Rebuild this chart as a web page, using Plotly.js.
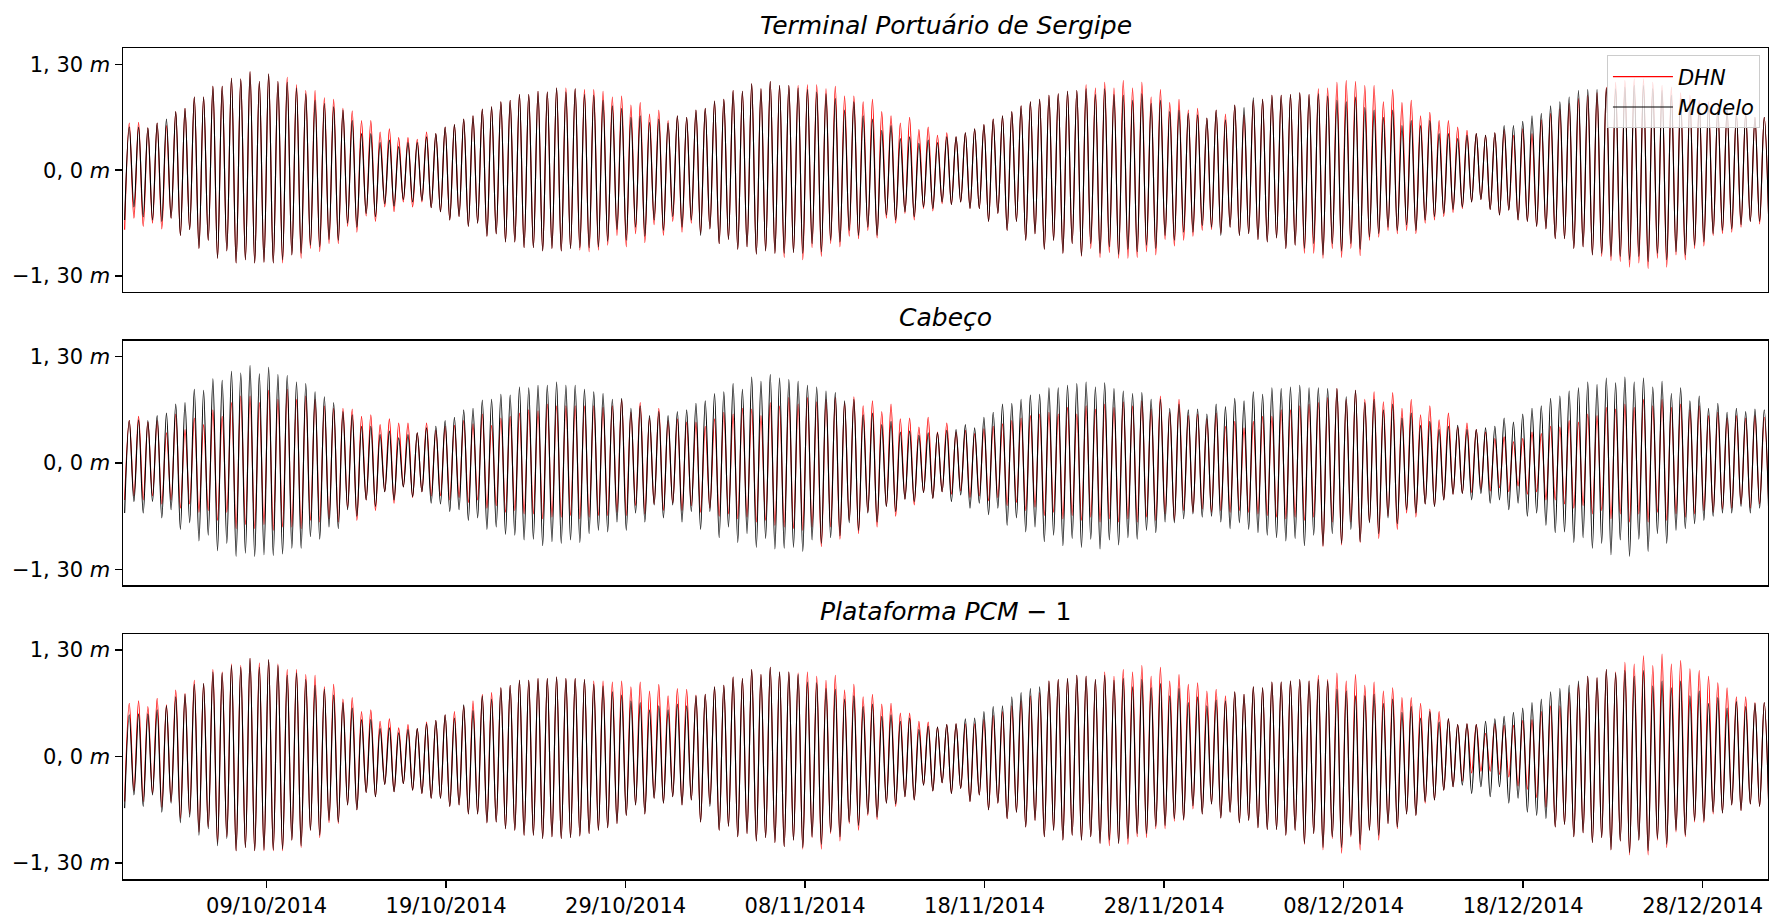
<!DOCTYPE html>
<html>
<head>
<meta charset="utf-8">
<script src="https://cdn.plot.ly/plotly-3.0.1.min.js"></script>
<style>
  html, body { margin: 0; padding: 0; background: #ffffff; }
  #chart { width: 1769px; height: 917px; }
</style>
</head>
<body>
<div id="chart"></div>
<script>
// Tide heights (cm) at each high water and low water, Oct-Dec 2014.
// Low-water arrays start with the low before the first high water.

// Terminal Portuário de Sergipe
const tpsDhnHighCm = [
  58, 59, 52, 58, 55, 72, 76, 90, 90, 103,
  103, 113, 112, 121, 109, 118, 109, 114, 105, 98,
  98, 89, 87, 76, 73, 61, 61, 47, 51, 40,
  40, 38, 47, 45, 53, 56, 63, 67, 75, 78,
  84, 86, 93, 93, 97, 96, 101, 101, 100, 99,
  99, 97, 90, 91, 80, 83, 69, 74, 61, 67,
  65, 74, 76, 85, 87, 98, 97, 106, 100, 109,
  104, 104, 104, 105, 105, 100, 103, 91, 91, 84,
  87, 72, 67, 58, 65, 50, 53, 43, 46, 41,
  46, 51, 56, 63, 67, 72, 79, 84, 87, 92,
  94, 97, 98, 105, 101, 108, 101, 110, 101, 108,
  90, 99, 83, 87, 74, 76, 64, 74, 69, 80,
  68, 86, 87, 92, 92, 93, 95, 93, 100, 101,
  108, 110, 109, 104, 104, 84, 99, 83, 86, 67,
  71, 61, 61, 53, 49, 45, 43, 46, 50, 43,
  51, 45, 62, 70, 75, 82, 88, 92, 95, 102,
  108, 110, 112, 112, 108, 104, 102, 95, 92, 86,
  84, 76, 74, 70, 70, 65, 65
];
const tpsDhnLowCm = [
  -73,
  -59, -69, -65, -72, -59, -80, -73, -96, -86, -108,
  -99, -114, -110, -114, -113, -114, -114, -104, -108, -96,
  -100, -90, -90, -69, -76, -56, -63, -45, -51, -39,
  -45, -39, -46, -51, -61, -57, -69, -65, -81, -78,
  -88, -88, -95, -95, -99, -96, -99, -96, -98, -100,
  -98, -92, -80, -94, -78, -89, -67, -80, -63, -76,
  -65, -78, -72, -90, -85, -97, -94, -103, -99, -102,
  -107, -101, -110, -95, -106, -90, -94, -81, -84, -74,
  -83, -59, -65, -53, -61, -47, -50, -41, -42, -39,
  -47, -47, -63, -53, -74, -63, -86, -78, -97, -86,
  -102, -90, -106, -96, -107, -101, -108, -108, -107, -100,
  -104, -85, -93, -86, -81, -74, -73, -78, -70, -80,
  -78, -85, -88, -83, -96, -92, -102, -102, -108, -96,
  -107, -96, -105, -86, -82, -74, -78, -74, -78, -65,
  -61, -57, -52, -47, -39, -36, -48, -55, -49, -61,
  -63, -69, -72, -84, -84, -96, -94, -104, -106, -111,
  -112, -119, -114, -121, -108, -119, -104, -110, -96, -93,
  -80, -78, -76, -70, -63, -66, -70
];
const tpsModHighCm = [
  53, 53, 52, 58, 63, 72, 76, 90, 90, 103,
  103, 113, 112, 121, 109, 118, 109, 108, 101, 94,
  86, 82, 78, 74, 61, 45, 45, 34, 37, 29,
  34, 34, 41, 45, 53, 56, 63, 67, 75, 78,
  84, 86, 93, 93, 97, 96, 101, 96, 100, 93,
  92, 86, 79, 76, 65, 67, 59, 63, 58, 67,
  65, 74, 76, 85, 87, 98, 97, 106, 100, 109,
  104, 104, 101, 99, 96, 94, 88, 74, 84, 67,
  63, 49, 55, 39, 41, 33, 37, 34, 41, 41,
  46, 51, 56, 63, 67, 72, 79, 84, 87, 92,
  94, 97, 98, 100, 93, 100, 93, 92, 86, 94,
  82, 86, 72, 74, 70, 68, 64, 74, 62, 80,
  77, 89, 87, 92, 92, 93, 95, 93, 94, 91,
  86, 84, 90, 77, 74, 65, 74, 55, 61, 55,
  61, 45, 45, 39, 43, 45, 43, 46, 55, 55,
  60, 67, 70, 79, 84, 90, 98, 99, 99, 101,
  100, 102, 104, 104, 100, 98, 92, 88, 84, 82,
  78, 76, 74, 70, 70, 65, 65
];
const tpsModLowCm = [
  -61,
  -45, -57, -61, -63, -59, -80, -73, -96, -86, -108,
  -99, -114, -110, -114, -113, -114, -110, -104, -102, -92,
  -94, -85, -86, -65, -70, -53, -57, -41, -44, -36,
  -39, -37, -46, -51, -61, -57, -69, -65, -81, -78,
  -88, -88, -95, -95, -99, -96, -99, -96, -95, -95,
  -94, -87, -73, -86, -70, -81, -61, -74, -57, -70,
  -61, -80, -72, -90, -85, -97, -94, -103, -99, -102,
  -102, -101, -102, -90, -100, -86, -88, -74, -80, -70,
  -80, -55, -61, -51, -57, -45, -47, -39, -42, -39,
  -47, -47, -63, -53, -74, -63, -86, -78, -97, -86,
  -102, -90, -105, -90, -102, -94, -103, -97, -100, -92,
  -96, -80, -86, -76, -76, -68, -70, -80, -70, -80,
  -78, -85, -88, -83, -96, -92, -96, -90, -104, -90,
  -99, -90, -97, -82, -78, -70, -74, -67, -74, -61,
  -57, -53, -48, -45, -39, -36, -48, -55, -49, -61,
  -63, -69, -72, -84, -84, -96, -94, -104, -102, -106,
  -106, -110, -106, -112, -102, -110, -100, -104, -92, -88,
  -78, -74, -72, -67, -63, -63, -70
];

// Cabeço
const cabDhnHighCm = [
  52, 57, 50, 52, 37, 60, 41, 55, 47, 65,
  57, 74, 82, 82, 74, 89, 78, 90, 78, 82,
  78, 70, 67, 67, 66, 57, 59, 47, 54, 49,
  49, 37, 49, 40, 45, 46, 52, 48, 60, 46,
  55, 57, 61, 65, 64, 72, 70, 70, 70, 70,
  70, 68, 70, 78, 62, 74, 55, 67, 52, 54,
  50, 50, 45, 54, 62, 60, 67, 66, 58, 74,
  70, 80, 72, 80, 75, 78, 80, 74, 81, 70,
  76, 63, 72, 54, 55, 44, 56, 38, 49, 38,
  40, 36, 42, 45, 48, 52, 55, 58, 60, 62,
  60, 68, 60, 70, 66, 72, 68, 75, 70, 76,
  66, 82, 62, 78, 58, 60, 54, 61, 45, 51,
  43, 51, 57, 57, 65, 65, 70, 72, 74, 80,
  91, 78, 89, 78, 87, 75, 86, 67, 78, 59,
  70, 53, 61, 44, 49, 41, 38, 30, 32, 26,
  30, 38, 36, 45, 44, 52, 50, 60, 58, 68,
  66, 72, 68, 78, 70, 78, 68, 72, 65, 70,
  58, 62, 55, 58, 55, 58, 56
];
const cabDhnLowCm = [
  -45,
  -40, -45, -40, -50, -45, -55, -50, -60, -58, -70,
  -60, -80, -75, -80, -75, -82, -78, -78, -80, -70,
  -72, -68, -72, -55, -70, -45, -58, -35, -49, -29,
  -42, -35, -40, -40, -45, -42, -48, -45, -55, -52,
  -60, -58, -62, -62, -68, -66, -66, -64, -68, -66,
  -64, -64, -60, -64, -52, -62, -50, -58, -49, -58,
  -52, -60, -55, -65, -62, -68, -66, -72, -70, -76,
  -78, -80, -82, -78, -102, -78, -93, -70, -86, -60,
  -78, -53, -65, -44, -51, -36, -43, -35, -38, -34,
  -42, -40, -46, -42, -52, -48, -58, -54, -64, -60,
  -68, -64, -70, -66, -72, -68, -72, -68, -72, -66,
  -70, -62, -70, -58, -60, -56, -60, -58, -60, -58,
  -60, -62, -64, -66, -68, -66, -70, -66, -102, -72,
  -100, -72, -97, -72, -92, -65, -81, -61, -66, -50,
  -53, -45, -38, -37, -36, -32, -34, -30, -35, -28,
  -38, -35, -45, -45, -50, -55, -52, -62, -58, -68,
  -62, -72, -62, -72, -60, -70, -62, -66, -62, -58,
  -60, -56, -55, -50, -55, -50, -58
];
const cabModHighCm = [
  52, 53, 52, 58, 61, 72, 74, 90, 89, 103,
  101, 112, 110, 119, 109, 117, 108, 107, 99, 97,
  87, 81, 74, 63, 59, 45, 45, 35, 39, 31,
  35, 37, 43, 45, 52, 56, 65, 67, 77, 78,
  84, 83, 93, 92, 95, 95, 99, 95, 95, 90,
  87, 85, 78, 79, 67, 70, 58, 63, 58, 63,
  65, 73, 76, 85, 87, 97, 90, 105, 100, 108,
  104, 102, 100, 95, 93, 88, 86, 76, 78, 59,
  61, 47, 51, 38, 39, 34, 37, 37, 40, 41,
  47, 43, 56, 62, 72, 73, 78, 83, 84, 92,
  92, 95, 97, 99, 93, 98, 91, 88, 85, 86,
  78, 78, 67, 72, 65, 66, 60, 72, 69, 79,
  76, 87, 84, 92, 91, 93, 95, 92, 92, 91,
  91, 81, 89, 74, 78, 65, 72, 55, 61, 46,
  51, 41, 45, 46, 41, 41, 43, 45, 55, 50,
  60, 67, 70, 79, 82, 88, 92, 99, 96, 104,
  98, 105, 99, 104, 93, 100, 85, 92, 76, 82,
  67, 73, 62, 67, 63, 66, 65
];
const cabModLowCm = [
  -61,
  -47, -61, -47, -67, -57, -81, -73, -95, -88, -107,
  -98, -114, -110, -114, -112, -113, -111, -104, -104, -90,
  -93, -78, -80, -57, -65, -45, -53, -35, -45, -29,
  -41, -35, -49, -50, -59, -57, -70, -67, -81, -78,
  -87, -88, -94, -93, -101, -96, -98, -94, -97, -86,
  -82, -84, -72, -82, -61, -72, -51, -67, -51, -72,
  -59, -81, -59, -91, -78, -97, -86, -103, -92, -105,
  -104, -103, -108, -94, -98, -91, -89, -73, -82, -61,
  -72, -53, -59, -44, -47, -36, -43, -35, -47, -39,
  -55, -49, -63, -55, -76, -67, -84, -78, -96, -88,
  -101, -92, -103, -93, -105, -94, -100, -91, -93, -82,
  -85, -72, -73, -68, -62, -66, -65, -72, -80, -73,
  -81, -85, -88, -91, -95, -92, -101, -88, -101, -86,
  -98, -81, -96, -73, -86, -67, -74, -57, -61, -50,
  -53, -45, -38, -37, -45, -37, -49, -45, -57, -49,
  -65, -61, -76, -85, -84, -97, -91, -104, -98, -112,
  -94, -114, -93, -108, -86, -98, -82, -80, -74, -70,
  -65, -61, -61, -53, -61, -55, -69
];

// Plataforma PCM-1
const pcmDhnHighCm = [
  65, 68, 61, 71, 63, 81, 77, 93, 89, 106,
  103, 113, 111, 120, 114, 118, 113, 106, 106, 100,
  99, 85, 88, 70, 72, 55, 57, 43, 46, 35,
  39, 34, 42, 44, 51, 55, 62, 68, 76, 78,
  84, 87, 93, 93, 95, 95, 97, 95, 95, 94,
  92, 92, 91, 92, 85, 91, 80, 88, 74, 83,
  82, 75, 76, 85, 87, 97, 95, 106, 100, 109,
  103, 103, 102, 103, 98, 93, 99, 81, 88, 73,
  76, 64, 65, 53, 53, 43, 42, 36, 39, 40,
  40, 40, 45, 50, 55, 62, 68, 74, 78, 92,
  94, 95, 99, 98, 94, 103, 98, 106, 103, 111,
  98, 109, 92, 100, 88, 90, 80, 82, 74, 79,
  76, 85, 84, 91, 91, 92, 94, 92, 99, 94,
  102, 92, 100, 87, 91, 80, 84, 72, 72, 65,
  58, 55, 46, 39, 40, 39, 28, 40, 38, 38,
  44, 45, 55, 62, 62, 78, 88, 98, 96, 106,
  103, 115, 113, 123, 111, 125, 113, 117, 107, 105,
  98, 90, 84, 73, 73, 66, 66
];
const pcmDhnLowCm = [
  -55,
  -42, -55, -45, -62, -55, -76, -70, -92, -86, -105,
  -98, -115, -111, -115, -115, -115, -115, -102, -111, -90,
  -99, -81, -82, -59, -65, -44, -49, -34, -43, -33,
  -41, -45, -51, -51, -61, -59, -70, -70, -81, -80,
  -88, -90, -96, -96, -100, -98, -100, -99, -97, -94,
  -90, -87, -82, -72, -59, -70, -51, -57, -49, -59,
  -53, -80, -58, -90, -85, -98, -94, -103, -99, -105,
  -110, -102, -113, -99, -113, -94, -103, -82, -90, -72,
  -77, -57, -61, -49, -53, -35, -42, -32, -45, -39,
  -55, -47, -65, -57, -76, -68, -86, -78, -98, -90,
  -102, -96, -102, -98, -106, -109, -106, -107, -98, -99,
  -88, -88, -79, -78, -64, -70, -58, -75, -68, -81,
  -78, -87, -89, -89, -96, -90, -107, -94, -114, -100,
  -118, -98, -114, -90, -102, -82, -88, -70, -72, -57,
  -53, -41, -37, -30, -20, -18, -18, -22, -25, -36,
  -40, -50, -62, -86, -83, -98, -93, -105, -99, -114,
  -103, -120, -102, -120, -102, -111, -92, -98, -80, -81,
  -70, -69, -59, -66, -58, -61, -68
];
const pcmModHighCm = [
  51, 52, 52, 57, 62, 73, 76, 88, 89, 103,
  102, 111, 109, 120, 109, 118, 111, 99, 102, 94,
  87, 82, 75, 66, 59, 45, 45, 34, 35, 29,
  33, 34, 40, 44, 51, 47, 63, 56, 74, 70,
  84, 87, 93, 93, 95, 95, 97, 95, 95, 94,
  88, 86, 79, 75, 68, 66, 57, 62, 57, 64,
  62, 74, 76, 85, 87, 97, 95, 106, 100, 109,
  103, 103, 100, 91, 90, 83, 82, 70, 74, 61,
  64, 49, 51, 43, 47, 33, 37, 36, 39, 40,
  46, 47, 55, 61, 62, 73, 78, 83, 85, 92,
  94, 95, 99, 98, 94, 99, 93, 95, 85, 94,
  84, 89, 74, 83, 66, 73, 62, 69, 68, 79,
  76, 85, 84, 91, 91, 92, 94, 92, 94, 92,
  82, 80, 74, 74, 76, 65, 70, 54, 61, 47,
  55, 42, 46, 39, 40, 39, 43, 46, 49, 54,
  59, 66, 70, 79, 83, 87, 92, 98, 96, 106,
  102, 105, 98, 105, 86, 92, 84, 92, 74, 80,
  65, 72, 59, 67, 61, 65, 66
];
const pcmModLowCm = [
  -63,
  -47, -61, -47, -68, -57, -81, -74, -96, -88, -109,
  -100, -115, -111, -115, -114, -114, -113, -102, -109, -90,
  -96, -78, -80, -59, -65, -44, -49, -34, -43, -33,
  -41, -45, -51, -51, -61, -59, -70, -70, -81, -80,
  -88, -90, -96, -96, -100, -98, -100, -99, -97, -94,
  -90, -87, -82, -72, -59, -70, -51, -57, -49, -59,
  -53, -80, -61, -90, -85, -98, -94, -103, -99, -105,
  -110, -102, -111, -98, -107, -92, -98, -80, -84, -70,
  -74, -57, -58, -49, -53, -35, -42, -32, -45, -39,
  -55, -47, -65, -57, -76, -68, -86, -78, -98, -90,
  -102, -96, -102, -98, -106, -102, -106, -100, -94, -94,
  -85, -84, -76, -77, -60, -70, -58, -75, -68, -81,
  -78, -87, -89, -89, -96, -90, -106, -94, -111, -98,
  -111, -96, -107, -90, -96, -82, -86, -70, -72, -55,
  -53, -41, -37, -35, -45, -37, -49, -37, -57, -51,
  -68, -72, -76, -86, -83, -98, -93, -105, -99, -114,
  -103, -117, -102, -115, -100, -107, -90, -96, -78, -79,
  -68, -69, -59, -66, -58, -61, -68
];

// Timing of the tide: first high water and mean semidiurnal period
const firstHighWater = '2014-10-01 08:24';
const tidalPeriodHours = 12.42;

// Axis labels
const panelTitles = [
  '<i>Terminal Portuário de Sergipe</i>',
  '<i>Cabeço</i>',
  '<i>Plataforma PCM</i> − 1'
];
const seriesNames = ['<i>DHN</i>', '<i>Modelo</i>'];
const yTickValues = [-1.3, 0, 1.3];
const yTickLabels = ['−1, 30 <i>m</i>', '0, 0 <i>m</i>', '1, 30 <i>m</i>'];
const dateTickValues = [
  '2014-10-09', '2014-10-19', '2014-10-29', '2014-11-08', '2014-11-18',
  '2014-11-28', '2014-12-08', '2014-12-18', '2014-12-28'
];
const xRange = ['2014-10-01 00:00', '2014-12-31 15:20'];

// Build the alternating low/high sequence with its timestamps
function fmt(ms) {
  return new Date(ms).toISOString().slice(0, 19).replace('T', ' ');
}
function tideSeries(highsCm, lowsCm) {
  const t0 = Date.parse(firstHighWater.replace(' ', 'T') + ':00Z');
  const period = tidalPeriodHours * 3600 * 1000;
  const x = [], y = [];
  x.push(fmt(t0 - period / 2));
  y.push(lowsCm[0] / 100);
  highsCm.forEach((h, i) => {
    x.push(fmt(t0 + i * period));
    y.push(h / 100);
    if (i + 1 < lowsCm.length) {
      x.push(fmt(t0 + i * period + period / 2));
      y.push(lowsCm[i + 1] / 100);
    }
  });
  return { x, y };
}

const panels = [
  { dhn: [tpsDhnHighCm, tpsDhnLowCm], mod: [tpsModHighCm, tpsModLowCm], xa: 'x', ya: 'y' },
  { dhn: [cabDhnHighCm, cabDhnLowCm], mod: [cabModHighCm, cabModLowCm], xa: 'x2', ya: 'y2' },
  { dhn: [pcmDhnHighCm, pcmDhnLowCm], mod: [pcmModHighCm, pcmModLowCm], xa: 'x3', ya: 'y3' }
];

const traces = [];
panels.forEach((p, i) => {
  const d = tideSeries(p.dhn[0], p.dhn[1]);
  const m = tideSeries(p.mod[0], p.mod[1]);
  traces.push({
    type: 'scatter', mode: 'lines', x: d.x, y: d.y, xaxis: p.xa, yaxis: p.ya,
    name: seriesNames[0], showlegend: i === 0, legendgroup: 'dhn',
    line: { color: '#ff0000', width: 1.1, shape: 'spline', smoothing: 1 },
    hoverinfo: 'skip'
  });
  traces.push({
    type: 'scatter', mode: 'lines', x: m.x, y: m.y, xaxis: p.xa, yaxis: p.ya,
    name: seriesNames[1], showlegend: i === 0, legendgroup: 'mod',
    line: { color: '#000000', width: 1.1, shape: 'spline', smoothing: 1 },
    hoverinfo: 'skip'
  });
});

const font = 'DejaVu Sans, Verdana, sans-serif';
const tickFont = { family: font, size: 21, color: '#000' };

function xAxis(anchor, withLabels) {
  return {
    type: 'date', anchor: anchor, range: xRange,
    showline: true, mirror: true, linecolor: '#000', linewidth: 1.5,
    showgrid: false, zeroline: false, automargin: false, fixedrange: true,
    tickvals: dateTickValues, tickformat: '%d/%m/%Y',
    ticks: withLabels ? 'outside' : '', ticklen: 7, tickwidth: 1.5, tickcolor: '#000',
    showticklabels: withLabels, tickfont: tickFont
  };
}
function yAxis(anchor, domain) {
  return {
    anchor: anchor, domain: domain, range: [-1.495, 1.495],
    showline: true, mirror: true, linecolor: '#000', linewidth: 1.5,
    showgrid: false, zeroline: false, automargin: false, fixedrange: true,
    tickvals: yTickValues, ticktext: yTickLabels,
    ticks: 'outside', ticklen: 7, tickwidth: 1.5, tickcolor: '#000',
    tickfont: tickFont
  };
}

const domains = [[0.7064, 0.9994], [0.3532, 0.6478], [0, 0.2948]];

const layout = {
  width: 1769, height: 917,
  margin: { l: 123, r: 1, t: 48, b: 38 },
  paper_bgcolor: '#ffffff', plot_bgcolor: '#ffffff',
  showlegend: true,
  xaxis: xAxis('y', false),
  xaxis2: xAxis('y2', false),
  xaxis3: xAxis('y3', true),
  yaxis: yAxis('x', domains[0]),
  yaxis2: yAxis('x2', domains[1]),
  yaxis3: yAxis('x3', domains[2]),
  legend: {
    x: 0.9951, xanchor: 'right', y: 0.991, yanchor: 'top',
    bgcolor: 'rgba(255,255,255,0.8)', bordercolor: '#cccccc', borderwidth: 1,
    font: { family: font, size: 21, color: '#000' },
    itemwidth: 60, tracegroupgap: 0
  },
  annotations: panelTitles.map((t, i) => ({
    text: t, xref: 'paper', yref: 'paper', x: 0.5, y: domains[i][1],
    xanchor: 'center', yanchor: 'middle', yshift: 23, showarrow: false,
    font: { family: font, size: 25, color: '#000' }
  }))
};

Plotly.newPlot('chart', traces, layout, { displayModeBar: false, staticPlot: true });
</script>
</body>
</html>
